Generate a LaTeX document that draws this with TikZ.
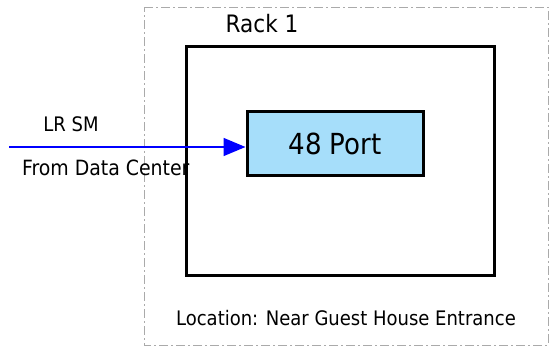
\documentclass[tikz,border=0pt]{standalone}
\usepackage{fontspec}
\setmainfont{DejaVu Sans Condensed}
\usetikzlibrary{arrows.meta}
\definecolor{portblue}{RGB}{166,222,250}
\definecolor{frame}{RGB}{170,170,170}
\tikzset{
  area/.style={draw=frame, line width=0.8pt, dash pattern=on 9pt off 3pt on 2pt off 3pt},
  rackbox/.style={draw=black, line width=3pt},
  portbox/.style={draw=black, line width=3pt, fill=portblue, minimum width=176pt, minimum height=64pt, inner sep=0pt},
  lbl/.style={inner sep=0pt, anchor=base},
  feed/.style={draw=blue, line width=1.6pt, -{Triangle[length=22pt,width=18pt]}}
}
\begin{document}
\begin{tikzpicture}[x=1pt,y=-1pt]
\useasboundingbox (0,0) rectangle (550,347);
% site boundary
\draw[area] (144,7) -- (548,7) -- (548,345) -- (144,345) -- cycle;
% rack outline
\draw[rackbox] (186,47) rectangle (494,276);
\node[lbl, font=\fontsize{24}{28}\selectfont] (rack) at (262,33) {Rack 1};
% switch
\node[portbox, font=\fontsize{29}{33}\selectfont] (port) at (335,144) {48 Port};
% incoming link
\coordinate (src) at (9,147);
\draw[feed] (src) -- (port.west |- src);
\node[lbl, font=\fontsize{20}{24}\selectfont] (lr) at (71,132) {LR SM};
\node[lbl, font=\fontsize{21}{25}\selectfont, anchor=base west] (dc) at (22,176) {From Data Center};
\node[lbl, font=\fontsize{20}{24}\selectfont] (loc) at (346,326) {Location: Near Guest House Entrance};
\end{tikzpicture}
\end{document}
